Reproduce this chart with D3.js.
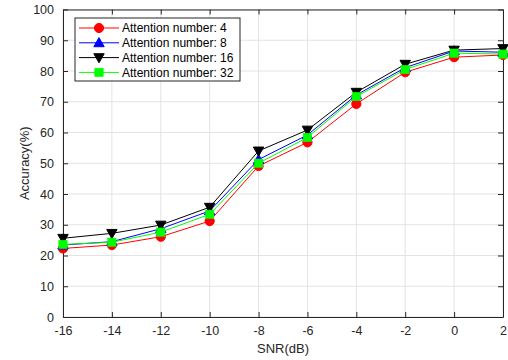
<!DOCTYPE html>
<html>
<head>
<meta charset="utf-8">
<script src="https://cdn.jsdelivr.net/npm/d3@7"></script>
<style>
  html, body { margin: 0; padding: 0; background: #fff; }
  svg { display: block; font-family: "Liberation Sans", Arial, Helvetica, sans-serif; }
</style>
</head>
<body>
<svg id="chart" width="508" height="360"></svg>
<script>
// SNR values on the x axis
const snr = [-16, -14, -12, -10, -8, -6, -4, -2, 0, 2];
// Accuracy (%) per attention-number setting
const acc4  = [22.3, 23.4, 26.1, 31.2, 49.1, 56.8, 69.3, 79.6, 84.5, 85.2];
const acc8  = [23.4, 24.5, 28.7, 34.5, 51.2, 59.2, 72.2, 81.1, 86.5, 86.1];
const acc16 = [25.6, 27.2, 29.9, 35.7, 54.0, 60.8, 73.1, 82.2, 86.8, 87.3];
const acc32 = [23.6, 24.3, 27.6, 33.4, 50.0, 58.4, 71.7, 80.5, 85.8, 85.5];
const seriesNames = ["Attention number: 4", "Attention number: 8", "Attention number: 16", "Attention number: 32"];
const xTicks = [-16, -14, -12, -10, -8, -6, -4, -2, 0, 2];
const yTicks = [0, 10, 20, 30, 40, 50, 60, 70, 80, 90, 100];

const series = [
  { name: seriesNames[0], values: acc4,  color: "#ff0000", marker: "circle" },
  { name: seriesNames[1], values: acc8,  color: "#0000ff", marker: "triUp" },
  { name: seriesNames[2], values: acc16, color: "#000000", marker: "triDown" },
  { name: seriesNames[3], values: acc32, color: "#00ff00", marker: "square" }
];

const svg = d3.select("#chart");
const m = { left: 63, right: 5, top: 9.5, bottom: 43 };
const W = 508, H = 360;
const x = d3.scaleLinear().domain([-16, 2]).range([m.left, W - m.right]);
const y = d3.scaleLinear().domain([0, 100]).range([H - m.bottom, m.top]);

const axisColor = "#262626";

// grid
const grid = svg.append("g");
grid.selectAll(".gx").data(xTicks).enter().append("line")
  .attr("x1", d => x(d)).attr("x2", d => x(d))
  .attr("y1", y(0)).attr("y2", y(100))
  .attr("stroke", "#e3e3e3").attr("stroke-width", 1);
grid.selectAll(".gy").data(yTicks).enter().append("line")
  .attr("x1", x(-16)).attr("x2", x(2))
  .attr("y1", d => y(d)).attr("y2", d => y(d))
  .attr("stroke", "#e3e3e3").attr("stroke-width", 1);

// axes (ticks pointing inward, box style)
const tickLen = 5;
const axBottom = svg.append("g").attr("transform", `translate(0,${y(0)})`)
  .call(d3.axisBottom(x).tickValues(xTicks).tickSizeInner(-tickLen).tickSizeOuter(0).tickPadding(9));
const axTop = svg.append("g").attr("transform", `translate(0,${y(100)})`)
  .call(d3.axisTop(x).tickValues(xTicks).tickSizeInner(-tickLen).tickSizeOuter(0).tickFormat(""));
const axLeft = svg.append("g").attr("transform", `translate(${x(-16)},0)`)
  .call(d3.axisLeft(y).tickValues(yTicks).tickSizeInner(-tickLen).tickSizeOuter(0).tickPadding(9));
const axRight = svg.append("g").attr("transform", `translate(${x(2)},0)`)
  .call(d3.axisRight(y).tickValues(yTicks).tickSizeInner(-tickLen).tickSizeOuter(0).tickFormat(""));

[axBottom, axTop, axLeft, axRight].forEach(g => {
  g.select(".domain").attr("stroke", axisColor).attr("stroke-width", 1);
  g.selectAll(".tick line").attr("stroke", axisColor);
  g.selectAll(".tick text").attr("fill", axisColor).attr("font-size", 12.5)
    .attr("font-family", "Liberation Sans, Arial, sans-serif");
});
axBottom.selectAll(".tick text").text(d => d < 0 ? "-" + Math.abs(d) : d);

// axis labels
svg.append("text").attr("x", x(-7)).attr("y", 353)
  .attr("text-anchor", "middle").attr("font-size", 13).attr("fill", axisColor)
  .text("SNR(dB)");
svg.append("text").attr("transform", `translate(28.5,${y(50)}) rotate(-90)`)
  .attr("text-anchor", "middle").attr("font-size", 13).attr("fill", axisColor)
  .text("Accuracy(%)");

// marker drawing
function drawMarker(g, type, color, cx, cy) {
  if (type === "circle") {
    g.append("circle").attr("cx", cx).attr("cy", cy).attr("r", 4.6)
      .attr("fill", color).attr("stroke", color);
  } else if (type === "square") {
    g.append("rect").attr("x", cx - 4.2).attr("y", cy - 4.2).attr("width", 8.4).attr("height", 8.4)
      .attr("fill", color).attr("stroke", color).attr("stroke-width", 0.5);
  } else if (type === "triUp") {
    const s = 5.2;
    g.append("path").attr("d", `M${cx},${cy - s}L${cx + s},${cy + s * 0.75}L${cx - s},${cy + s * 0.75}Z`)
      .attr("fill", color).attr("stroke", color);
  } else if (type === "triDown") {
    const s = 5.2;
    g.append("path").attr("d", `M${cx},${cy + s}L${cx + s},${cy - s * 0.75}L${cx - s},${cy - s * 0.75}Z`)
      .attr("fill", color).attr("stroke", color);
  }
}

const line = d3.line().x((d, i) => x(snr[i])).y(d => y(d));
const plot = svg.append("g");
series.forEach(s => {
  const g = plot.append("g");
  g.append("path").datum(s.values).attr("d", line)
    .attr("fill", "none").attr("stroke", s.color).attr("stroke-width", 1);
  s.values.forEach((v, i) => drawMarker(g, s.marker, s.color, x(snr[i]), y(v)));
});

// legend
const lg = svg.append("g");
const lx = 75, ly = 18, lw = 165, lh = 63;
lg.append("rect").attr("x", lx).attr("y", ly).attr("width", lw).attr("height", lh)
  .attr("fill", "#fff").attr("stroke", axisColor).attr("stroke-width", 1);
series.forEach((s, i) => {
  const cy = ly + 10 + i * 14.8;
  lg.append("line").attr("x1", lx + 4).attr("x2", lx + 44).attr("y1", cy).attr("y2", cy)
    .attr("stroke", s.color).attr("stroke-width", 1);
  drawMarker(lg, s.marker, s.color, lx + 24, cy);
  lg.append("text").attr("x", lx + 47).attr("y", cy + 4.2)
    .attr("font-size", 12).attr("fill", "#000").text(s.name);
});
</script>
</body>
</html>
